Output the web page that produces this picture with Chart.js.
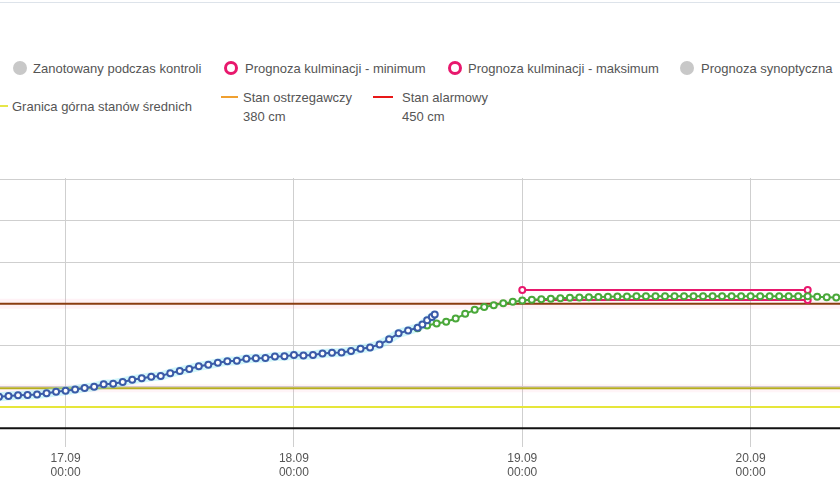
<!DOCTYPE html>
<html><head><meta charset="utf-8">
<script src="https://cdn.jsdelivr.net/npm/chart.js@4"></script>
<style>
body{margin:0;width:840px;height:480px;background:#fff;font-family:"Helvetica Neue",Arial,"Liberation Sans",sans-serif;overflow:hidden;position:relative}
#top{position:absolute;left:0;top:0;width:840px;height:2px;border-bottom:1px solid #dde3ea}
.lg{position:absolute;font-size:13px;color:#555;line-height:19px;white-space:nowrap}
.dot{position:absolute;width:14px;height:14px;border-radius:50%;box-sizing:border-box}
.ln{position:absolute;height:2px}
canvas{position:absolute;left:-7px;top:0}
</style></head><body>
<div id="top"></div>
<div class="dot" style="left:13px;top:61px;background:#c8c8c8"></div>
<div class="lg" style="left:33px;top:59px">Zanotowany podczas kontroli</div>
<div class="dot" style="left:224px;top:61px;border:3px solid #e8186d"></div>
<div class="lg" style="left:245px;top:59px">Prognoza kulminacji - minimum</div>
<div class="dot" style="left:448px;top:61px;border:3px solid #e8186d"></div>
<div class="lg" style="left:468px;top:59px">Prognoza kulminacji - maksimum</div>
<div class="dot" style="left:680px;top:61px;background:#c8c8c8"></div>
<div class="lg" style="left:701px;top:59px">Prognoza synoptyczna</div>
<div class="ln" style="left:0;width:8px;top:105px;background:#e6e64a"></div>
<div class="lg" style="left:12px;top:97px">Granica górna stanów średnich</div>
<div class="ln" style="left:221px;width:17px;top:96px;background:#f0a030"></div>
<div class="lg" style="left:243px;top:88px">Stan ostrzegawczy<br>380 cm</div>
<div class="ln" style="left:373px;width:20px;top:96px;background:#e81818"></div>
<div class="lg" style="left:402px;top:88px">Stan alarmowy<br>450 cm</div>
<canvas id="c" width="854" height="488"></canvas>
<script>
const dayTicks=[0,24,48,72];
const dayLabels=[["17.09","00:00"],["18.09","00:00"],["19.09","00:00"],["20.09","00:00"]];
const obsHours=[-7,-6,-5,-4,-3,-2,-1,0,1,2,3,4,5,6,7,8,9,10,11,12,13,14,15,16,17,18,19,20,21,22,23,24,25,26,27,28,29,30,31,32,33,34,35,36,37,37.5,38,38.5,38.8];
const obsValues=[337.9,338.7,339.5,340.0,340.5,342.0,343.9,345.1,346.7,348.5,349.8,352.9,353.6,355.7,358.3,360.1,361.9,362.9,366.3,368.9,371.4,374.5,376.4,378.7,380.7,381.3,383.6,384.1,384.6,386.5,386.7,388.2,387.5,388.2,390.0,390.8,391.3,392.9,395.7,397.3,400.9,407.0,414.3,417.6,421.0,425.0,430.0,434.0,437.0];
const fcStart=37;
const fcValues=[420.5,423.6,426.2,428.2,432.1,437.8,442.6,446.0,448.1,450.4,452.2,453.8,454.8,455.3,456.1,456.6,457.1,457.6,457.9,458.2,458.4,458.6,458.8,458.9,458.9,458.9,458.9,458.9,458.9,458.9,458.9,458.9,458.9,458.9,458.9,458.9,458.9,458.9,458.9,458.9,458.9,458.9,458.4,457.9,457.4];
const kulmHours=[48,78];
const kulmMin=[454.6,454.6];
const kulmMax=[466.4,466.4];
const levelSpan=[-7,81.5];
const levelBlack=300, levelUpper=325.5, levelWarn=348, levelAlarm=450;

const obs=obsHours.map((h,i)=>({x:h,y:obsValues[i]}));
const fc=fcValues.map((v,i)=>({x:fcStart+i,y:v}));
const flat=v=>levelSpan.map(x=>({x,y:v}));
const line=(data,color,w,extra)=>Object.assign({data,borderColor:color,borderWidth:w,pointRadius:0,fill:false,tension:0},extra||{});
const ds=[
  line(flat(levelAlarm),'rgba(255,150,180,0.12)',10),
  line(flat(levelWarn),'rgba(255,150,180,0.10)',8),
  line(flat(levelBlack),'#111',2),
  line(flat(levelUpper),'#e6e63a',2),
  line(flat(levelWarn),'#b5ad1e',2),
  line(flat(levelAlarm),'#8a3c10',2),
  line(obs,'rgba(120,230,240,0.35)',9),
  line(kulmHours.map((h,i)=>({x:h,y:kulmMin[i]})),'#e8186d',2,{pointRadius:[0,3],pointBorderWidth:2,pointBackgroundColor:'#fff',pointBorderColor:'#e8186d'}),
  line(kulmHours.map((h,i)=>({x:h,y:kulmMax[i]})),'#e8186d',2,{pointRadius:3,pointBorderWidth:2,pointBackgroundColor:'#fff',pointBorderColor:'#e8186d'}),
  line(fc,'#4aa83a',2,{pointRadius:3,pointBorderWidth:2,pointBackgroundColor:'#fff',pointBorderColor:'#4aa83a'}),
  line(obs,'#3a5ba8',2,{pointRadius:3,pointBorderWidth:2,pointBackgroundColor:'#fff',pointBorderColor:'#3a5ba8'})
];
ds.forEach((d,i)=>{d.order=ds.length-i;});
new Chart(document.getElementById('c'),{
 type:'line',
 data:{datasets:ds},
 options:{responsive:false,animation:false,
  layout:{padding:{top:178,left:0,right:0,bottom:0}},
  plugins:{legend:{display:false},tooltip:{enabled:false}},
  scales:{
   x:{type:'linear',min:-7,max:81.5,afterBuildTicks:s=>{s.ticks=dayTicks.map(v=>({value:v}));},
      afterFit:s=>{s.height=47;},
      grid:{color:'#cfcfcf',tickLength:6},border:{display:false},
      ticks:{color:'#555',font:{size:12},padding:4,maxRotation:0,callback:(v)=>dayLabels[dayTicks.indexOf(v)]||''}},
   y:{min:284.5,max:601.5,afterBuildTicks:s=>{s.ticks=[300,350,400,450,500,550,600].map(v=>({value:v}));},
      afterFit:s=>{s.width=0;},
      grid:{color:'#cfcfcf'},border:{display:false},ticks:{display:false}}
  }}
});
</script></body></html>
